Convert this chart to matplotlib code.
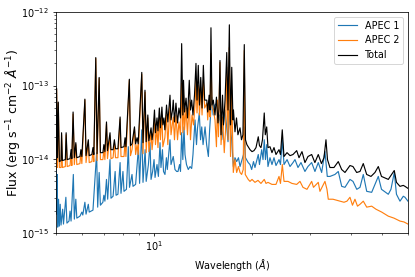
import matplotlib
matplotlib.use("Agg")
import matplotlib.pyplot as plt
import numpy as np

# (wavelength in Angstrom, flux in 1e-15 erg/s/cm2/A)
apec1_pts = [
    (5.00, 9.9), (5.02, 1.80), (5.04, 6.22), (5.06, 1.20), (5.09, 2.87), (5.12, 1.24),
    (5.15, 2.45), (5.18, 1.28), (5.24, 2.10), (5.27, 1.32), (5.36, 3.05), (5.40, 1.36),
    (5.48, 1.45), (5.52, 1.98), (5.56, 1.45), (5.65, 6.22), (5.69, 1.54), (5.75, 2.87),
    (5.79, 1.59), (5.92, 1.69), (6.00, 1.92), (6.04, 1.75), (6.13, 2.61), (6.18, 1.80),
    (6.28, 2.45), (6.32, 1.92), (6.49, 2.04), (6.66, 12.3), (6.71, 2.24), (6.78, 6.62),
    (6.84, 2.38), (6.96, 2.61), (7.01, 3.25), (7.06, 2.70), (7.14, 5.33), (7.20, 2.87),
    (7.32, 9.9), (7.37, 2.96), (7.48, 3.15), (7.59, 6.83), (7.64, 3.25), (7.74, 3.35),
    (7.86, 9.02), (7.91, 3.45), (8.02, 6.83), (8.08, 3.67), (8.22, 3.91), (8.33, 14.8),
    (8.40, 4.16), (8.55, 6.22), (8.61, 4.29), (8.77, 4.56), (8.95, 14.8), (9.02, 4.71),
    (9.16, 25.1), (9.24, 4.86), (9.38, 13.5), (9.45, 5.01), (9.60, 8.48), (9.71, 16.8),
    (9.78, 5.33), (9.89, 6.83), (9.99, 9.9), (10.06, 5.67), (10.20, 8.48), (10.30, 5.85),
    (10.42, 16.8), (10.49, 7.73), (10.60, 13.5), (10.68, 6.83), (10.79, 6.22), (10.90, 10.5),
    (10.97, 7.26), (11.18, 18.4), (11.26, 8.48), (11.44, 10.9), (11.58, 7.26), (11.72, 6.83),
    (11.83, 6.83), (11.96, 8.48), (12.04, 6.83), (12.14, 22.9), (12.24, 9.9), (12.34, 27.5),
    (12.43, 11.6), (12.56, 8.48), (12.72, 7.26), (12.88, 7.97), (13.03, 7.49), (13.15, 11.6),
    (13.34, 34.2), (13.48, 15.8), (13.58, 26.7), (13.75, 42.5), (13.87, 18.4), (13.99, 27.5),
    (14.12, 15.8), (14.32, 27.5), (14.48, 15.8), (14.66, 10.9), (14.79, 25.1), (15.01, 69.7),
    (15.16, 39.9), (15.33, 54.4), (15.58, 57.8), (15.69, 29.3), (15.86, 39.9), (16.11, 18.4),
    (16.26, 26.7), (16.49, 46.6), (16.66, 29.3), (16.84, 17.3), (16.99, 46.6), (17.14, 25.1),
    (17.28, 18.4), (17.48, 7.97), (17.69, 10.5), (17.90, 9.3), (18.13, 10.5), (18.33, 7.97),
    (18.59, 9.9), (18.79, 11.6), (18.89, 27.5), (19.05, 10.5), (19.42, 9.02), (19.67, 8.48),
    (19.90, 7.26), (20.16, 9.3), (20.37, 7.73), (20.66, 9.9), (20.85, 11.6), (21.03, 8.48),
    (21.36, 13.5), (21.56, 9.9), (21.75, 18.4), (21.94, 9.9), (22.13, 15.8), (22.33, 7.97),
    (22.65, 10.5), (22.97, 8.48), (23.30, 10.5), (23.63, 8.22), (24.14, 9.9), (24.39, 8.48),
    (24.71, 18.4), (25.01, 8.48), (25.55, 9.9), (26.09, 7.97), (26.65, 9.02), (27.02, 9.9),
    (27.60, 7.73), (28.19, 9.02), (28.99, 6.83), (29.61, 7.97), (30.40, 9.02), (31.11, 6.83),
    (31.85, 9.02), (32.62, 6.62), (33.39, 12.7), (33.94, 5.85), (34.59, 5.85), (35.83, 6.22),
    (36.68, 6.83), (37.58, 4.29), (38.46, 4.16), (39.84, 5.33), (40.70, 5.01), (41.80, 3.91),
    (42.76, 4.16), (43.77, 6.22), (44.84, 3.67), (46.44, 3.56), (47.53, 4.56), (48.66, 5.85),
    (49.77, 3.91), (52.22, 3.35), (53.21, 3.91), (54.47, 6.62), (55.32, 3.35), (56.71, 2.70),
    (58.05, 3.15), (58.75, 3.05), (60.00, 2.70),
]

apec2_pts = [
    (5.00, 7.26), (5.02, 89.3), (5.05, 7.73), (5.08, 57.8), (5.12, 7.73), (5.18, 7.73),
    (5.20, 21.5), (5.23, 7.73), (5.34, 7.97), (5.37, 21.5), (5.41, 7.97), (5.52, 8.22),
    (5.56, 11.9), (5.59, 8.22), (5.64, 41.1), (5.69, 8.48), (5.75, 15.8), (5.79, 8.48),
    (5.92, 8.74), (5.96, 12.3), (6.00, 8.74), (6.13, 63.5), (6.18, 9.02), (6.28, 17.3),
    (6.32, 9.02), (6.44, 9.3), (6.49, 12.7), (6.53, 9.3), (6.62, 233), (6.68, 9.6),
    (6.78, 125), (6.84, 9.9), (6.96, 9.9), (7.01, 13.5), (7.06, 9.9), (7.14, 30.2),
    (7.19, 10.2), (7.32, 20.8), (7.37, 10.2), (7.48, 10.5), (7.55, 16.8), (7.61, 10.5),
    (7.74, 10.5), (7.86, 35.3), (7.91, 10.9), (8.08, 10.9), (8.14, 17.3), (8.19, 10.9),
    (8.39, 118), (8.46, 11.2), (8.55, 13.5), (8.70, 25.9), (8.77, 11.6), (8.86, 15.8),
    (8.93, 11.6), (9.16, 142), (9.24, 11.9), (9.38, 81.4), (9.45, 12.3), (9.56, 36.4),
    (9.63, 12.7), (9.78, 23.6), (9.85, 13.5), (9.92, 18.4), (10.02, 36.4), (10.09, 15.8),
    (10.20, 26.7), (10.27, 14.4), (10.37, 36.4), (10.45, 18.4), (10.56, 39.9), (10.63, 14.8),
    (10.78, 19.6), (10.91, 39.9), (11.01, 15.8), (11.18, 54.4), (11.26, 21.5), (11.44, 37.5),
    (11.54, 18.4), (11.66, 39.9), (11.79, 18.4), (11.91, 32.1), (12.04, 21.5), (12.14, 108),
    (12.24, 22.9), (12.30, 74.1), (12.39, 25.1), (12.52, 49.6), (12.65, 21.5), (12.81, 63.5),
    (12.92, 18.4), (13.06, 39.9), (13.20, 29.3), (13.34, 54.4), (13.43, 118), (13.53, 42.5),
    (13.65, 100), (13.77, 39.9), (13.89, 95), (14.02, 39.9), (14.15, 118), (14.28, 49.6),
    (14.50, 57.8), (14.59, 34.2), (14.74, 63.5), (14.83, 37.5), (14.93, 272), (15.04, 51.1),
    (15.18, 46.6), (15.36, 34.2), (15.52, 14.8), (15.63, 63.5), (15.74, 20.2), (15.91, 206),
    (16.03, 15.8), (16.20, 37.5), (16.40, 12.3), (16.55, 25.1), (16.69, 177), (16.84, 18.4),
    (16.99, 328), (17.14, 10.9), (17.28, 86.5), (17.48, 6.62), (17.69, 9.9), (17.90, 6.62),
    (18.13, 7.97), (18.33, 6.62), (18.54, 6.22), (18.75, 7.26), (18.89, 299), (19.02, 6.22),
    (19.42, 5.33), (19.67, 5.01), (19.95, 5.33), (20.37, 4.86), (20.81, 5.17), (21.25, 4.70),
    (21.75, 5.33), (22.02, 4.70), (22.33, 4.86), (22.97, 4.56), (23.63, 4.56), (24.14, 5.85),
    (24.39, 4.70), (24.71, 8.48), (25.01, 5.01), (25.72, 5.01), (26.46, 4.70), (27.35, 4.56),
    (27.99, 5.01), (28.59, 4.16), (29.41, 3.91), (30.40, 5.01), (30.79, 4.16), (31.85, 4.86),
    (32.23, 3.67), (32.92, 4.42), (33.39, 5.01), (33.87, 3.91), (34.18, 2.87), (35.33, 2.87),
    (37.12, 2.70), (38.19, 2.61), (39.00, 2.70), (39.84, 3.05), (40.55, 2.38), (41.27, 2.87),
    (42.01, 2.31), (42.76, 2.45), (43.77, 2.70), (44.84, 2.24), (46.44, 2.31), (47.87, 2.10),
    (49.84, 1.92), (52.22, 1.69), (54.35, 1.59), (56.71, 1.45), (58.33, 1.41), (60.00, 1.32),
]

total_pts = [
    (5.00, 9.9), (5.02, 92), (5.05, 10.5), (5.08, 59.7), (5.12, 9.3), (5.18, 9.6),
    (5.20, 22.9), (5.23, 9.6), (5.34, 9.9), (5.37, 22.9), (5.41, 9.9), (5.52, 10.2),
    (5.56, 13.5), (5.59, 10.2), (5.64, 43.8), (5.69, 10.5), (5.75, 16.8), (5.79, 10.5),
    (5.92, 10.9), (5.96, 13.5), (6.00, 10.9), (6.13, 65.5), (6.18, 11.2), (6.28, 18.4),
    (6.32, 11.2), (6.44, 11.6), (6.49, 14.4), (6.53, 11.6), (6.62, 240), (6.68, 11.9),
    (6.78, 129), (6.84, 12.3), (6.96, 12.3), (7.01, 15.8), (7.06, 12.7), (7.14, 32.1),
    (7.19, 13.1), (7.32, 22.9), (7.37, 13.5), (7.48, 13.5), (7.55, 18.4), (7.61, 13.9),
    (7.74, 13.9), (7.86, 37.5), (7.91, 14.4), (8.08, 14.8), (8.14, 19.6), (8.19, 14.8),
    (8.39, 122), (8.46, 15.3), (8.55, 16.2), (8.70, 27.5), (8.77, 16.2), (8.86, 19.6),
    (8.93, 16.2), (9.16, 151), (9.24, 16.8), (9.37, 86.5), (9.45, 17.3), (9.56, 39.9),
    (9.63, 17.8), (9.78, 26.7), (9.85, 18.4), (9.92, 23.6), (10.02, 46.6), (10.09, 22.9),
    (10.20, 36.4), (10.27, 24.3), (10.37, 49.6), (10.45, 26.7), (10.56, 51.1), (10.63, 29.3),
    (10.71, 36.4), (10.78, 25.1), (10.91, 54.4), (11.01, 32.1), (11.18, 74.1), (11.26, 34.2),
    (11.38, 46.6), (11.44, 63.5), (11.54, 32.1), (11.66, 57.8), (11.79, 31.1), (11.91, 49.6),
    (12.04, 36.4), (12.14, 371), (12.24, 39.9), (12.30, 118), (12.39, 43.8), (12.52, 67.6),
    (12.65, 36.4), (12.81, 118), (12.92, 46.6), (13.03, 63.5), (13.15, 39.9), (13.29, 74.1),
    (13.43, 200), (13.53, 63.5), (13.65, 188), (13.77, 54.4), (13.89, 129), (14.02, 49.6),
    (14.15, 188), (14.28, 63.5), (14.50, 63.5), (14.59, 43.8), (14.74, 74.1), (14.83, 46.6),
    (14.93, 609), (15.04, 54.4), (15.18, 63.5), (15.36, 39.9), (15.52, 69.7), (15.69, 31.1),
    (15.80, 49.6), (15.91, 219), (16.03, 21.5), (16.20, 74.1), (16.31, 29.3), (16.49, 63.5),
    (16.69, 281), (16.84, 46.6), (17.00, 668), (17.14, 29.3), (17.29, 177), (17.44, 34.2),
    (17.50, 46.6), (17.69, 23.6), (17.88, 36.4), (18.06, 21.5), (18.33, 26.7), (18.52, 18.4),
    (18.71, 21.5), (18.89, 360), (19.05, 18.4), (19.24, 15.8), (19.42, 14.8), (19.67, 13.5),
    (19.95, 12.7), (20.23, 13.1), (20.52, 14.4), (20.85, 20.2), (21.03, 15.3), (21.25, 14.4),
    (21.48, 18.4), (21.75, 42.5), (21.91, 21.5), (22.13, 27.5), (22.33, 14.4), (22.65, 14.8),
    (22.97, 12.3), (23.30, 14.4), (23.63, 11.6), (24.14, 13.5), (24.39, 11.6), (24.70, 25.1),
    (25.00, 10.9), (25.54, 12.3), (26.09, 11.2), (26.64, 11.6), (27.35, 13.1), (27.80, 10.5),
    (28.39, 12.7), (28.99, 9.02), (29.62, 10.9), (30.40, 11.6), (31.10, 9.02), (31.85, 11.6),
    (32.57, 8.74), (33.16, 10.5), (33.63, 18.4), (33.99, 9.9), (34.59, 7.73), (35.58, 7.73),
    (36.68, 9.30), (37.57, 7.26), (38.46, 6.62), (39.84, 8.22), (40.69, 7.97), (41.77, 6.62),
    (42.76, 6.83), (43.76, 8.74), (44.83, 6.22), (46.21, 5.85), (47.53, 6.62), (48.66, 7.97),
    (49.77, 5.85), (52.22, 5.33), (53.21, 6.03), (54.47, 7.04), (55.32, 4.86), (56.71, 4.29),
    (58.05, 4.42), (58.75, 4.29), (60.00, 4.03),
]

labels = ["APEC 1", "APEC 2", "Total"]
colors = ["tab:blue", "tab:orange", "black"]

fig = plt.figure(figsize=(6, 4.0048), dpi=69.17)
ax = fig.add_axes([0.135, 0.159, 0.848, 0.798])

for pts, lab, col in zip([apec1_pts, apec2_pts, total_pts], labels, colors):
    arr = np.array(pts)
    ax.plot(arr[:, 0], arr[:, 1] * 1e-15, color=col, lw=1.2, label=lab)

ax.set_xscale("log")
ax.set_yscale("log")
ax.set_xlim(5, 60)
ax.set_ylim(1e-15, 1e-12)
ax.set_xlabel(r"Wavelength ($\AA$)")
ax.set_ylabel(r"Flux (erg s$^{-1}$ cm$^{-2}$ $\AA^{-1}$)", fontsize=13, labelpad=-1)
ax.legend(loc="upper right")

fig.savefig("out.png", dpi=69.17)
